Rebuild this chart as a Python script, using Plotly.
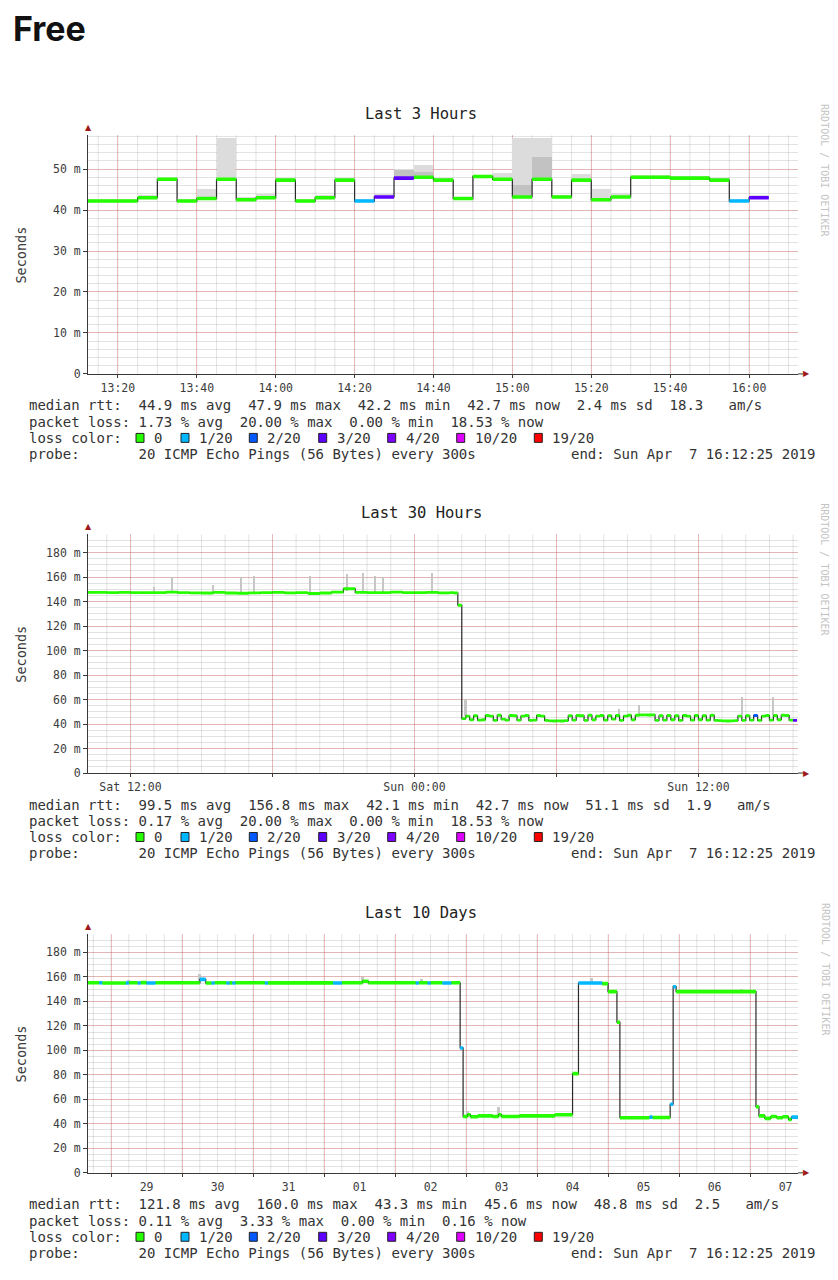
import pandas as pd
import plotly.graph_objects as go

W, H = 838, 1280

# loss colour legend (SmokePing, 20 pings)
loss_labels = ["0", "1/20", "2/20", "3/20", "4/20", "10/20", "19/20"]
loss_steps = [0, 1, 2, 3, 4, 10, 19]
loss_colors = ["#26ff00", "#00b8ff", "#0059ff", "#5e00ff", "#7e00ff", "#dd00ff", "#ff0000"]

# ---- Last 3 Hours: 5 minute steps starting 13:10 (values in ms)
h3_start = "2019-04-07 13:10"
h3_median = [42.2, 42.2, 42.2, 43.0, 47.5, 42.2, 42.8, 47.5, 42.5, 43.0,
             47.3, 42.2, 43.0, 47.3, 42.2, 43.2, 47.8, 48.0, 47.3, 42.8,
             48.2, 47.5, 43.2, 47.5, 43.2, 47.3, 42.5, 43.2, 48.0, 48.0,
             47.8, 47.8, 47.3, 42.2, 43.0]
h3_loss = [0, 0, 0, 0, 0, 0, 0, 0, 0, 0,
           0, 0, 0, 0, 1, 3, 3, 0, 0, 0,
           0, 0, 0, 0, 0, 0, 0, 0, 0, 0,
           0, 0, 0, 1, 3]
h3_smoke = [42.6, 42.6, 42.6, 43.6, 48.0, 42.7, 45.0, 57.5, 43.0, 43.8,
            47.8, 42.7, 43.5, 47.8, 42.6, 43.8, 50.0, 51.0, 47.8, 43.2,
            48.6, 49.0, 57.5, 57.5, 43.6, 48.8, 45.0, 44.0, 48.4, 48.6,
            48.2, 48.2, 47.8, 42.6, 43.5]
h3_smoke_dark = [42.2, 42.2, 42.2, 43.0, 47.5, 42.2, 42.8, 47.5, 42.5, 43.0,
                 47.3, 42.2, 43.0, 47.3, 42.2, 43.2, 49.6, 49.2, 47.3, 42.8,
                 48.2, 47.5, 46.0, 53.0, 43.2, 47.3, 42.5, 43.2, 48.0, 48.0,
                 47.8, 47.8, 47.3, 42.2, 43.0]

# ---- Last 30 Hours: half-hour values before the drop, then 10 minute values
d30_hi_start = "2019-04-06 10:00"
d30_hi_median = [147.5, 147.5, 147.3, 147.6, 147.3, 147.4, 147.3, 147.8, 147.3, 147.2,
                 147.0, 147.6, 147.0, 146.8, 147.2, 147.3, 147.6, 147.2, 147.3, 146.6,
                 147.0, 147.8, 150.5, 147.5, 147.4, 147.3, 147.8, 147.3, 147.3, 147.6,
                 147.2]
d30_lo_start = "2019-04-07 01:30"
d30_lo_median = [147.3, 147.0, 137.0,
                 44.5, 46.5, 43.5, 46.8, 43.2, 43.5,
                 47.0, 46.5, 43.0, 47.2, 44.0, 43.2,
                 47.0, 46.8, 43.2, 46.5, 47.0, 43.0,
                 43.2, 47.0, 46.5, 43.0, 42.6, 42.5,
                 42.6, 42.5, 42.8, 46.8, 43.2, 47.0,
                 46.8, 43.0, 47.2, 43.5, 46.5, 47.0,
                 43.2, 46.8, 44.0, 47.0, 43.0, 46.5,
                 47.2, 43.5, 47.2, 47.5, 47.5, 47.4,
                 47.5, 43.0, 46.8, 43.2, 47.0, 43.5,
                 46.8, 43.0, 47.0, 46.5, 43.2, 47.0,
                 43.5, 46.8, 43.2, 47.2, 43.0, 42.8,
                 42.6, 42.5, 42.6, 42.8, 46.5, 43.0,
                 46.8, 43.2, 47.0, 43.0, 46.5, 47.0,
                 43.2, 47.0, 43.5, 47.2, 47.0, 43.2,
                 43.0]
d30_loss_times = ["2019-04-07 14:20", "2019-04-07 16:00"]
d30_loss_values = [2, 3]
d30_spike_times = ["2019-04-06 13:00", "2019-04-06 13:45", "2019-04-06 15:30", "2019-04-06 16:40",
                   "2019-04-06 17:15", "2019-04-06 19:35", "2019-04-06 21:10", "2019-04-06 21:50",
                   "2019-04-06 22:20", "2019-04-06 22:40", "2019-04-07 00:45", "2019-04-07 02:10",
                   "2019-04-07 08:40", "2019-04-07 09:30", "2019-04-07 13:50", "2019-04-07 15:10"]
d30_spike_low = [147, 147, 147, 147, 147, 147, 148, 147, 147, 147, 147, 46, 47, 47, 47, 47]
d30_spike_high = [152, 160, 153, 160, 161, 161, 162, 163, 161, 160, 163, 60, 52, 55, 62, 62]

# ---- Last 10 Days: change points of the median
d10_times = ["2019-03-28 16:00", "2019-03-28 20:00", "2019-03-28 21:00", "2019-03-29 05:00",
             "2019-03-29 06:00", "2019-03-29 09:00", "2019-03-29 10:00", "2019-03-29 12:00",
             "2019-03-29 15:00", "2019-03-30 06:00", "2019-03-30 08:00", "2019-03-30 10:00",
             "2019-03-30 11:00", "2019-03-30 15:00", "2019-03-30 16:00", "2019-03-30 17:00",
             "2019-03-30 18:00", "2019-03-31 04:00", "2019-03-31 05:00", "2019-04-01 03:00",
             "2019-04-01 06:00", "2019-04-01 13:00", "2019-04-01 15:00", "2019-04-02 07:00",
             "2019-04-02 08:00", "2019-04-02 11:00", "2019-04-02 12:00", "2019-04-02 16:00",
             "2019-04-02 19:00", "2019-04-02 22:00", "2019-04-02 23:00", "2019-04-03 00:30",
             "2019-04-03 01:30", "2019-04-03 04:00", "2019-04-03 09:00", "2019-04-03 11:00",
             "2019-04-03 12:00", "2019-04-03 18:00", "2019-04-04 06:00", "2019-04-04 12:00",
             "2019-04-04 14:00", "2019-04-04 22:00", "2019-04-05 00:00", "2019-04-05 03:00",
             "2019-04-05 04:00", "2019-04-05 14:00", "2019-04-05 15:00", "2019-04-05 21:00",
             "2019-04-05 22:00", "2019-04-05 23:00", "2019-04-07 02:00", "2019-04-07 03:00",
             "2019-04-07 05:00", "2019-04-07 07:00", "2019-04-07 09:00", "2019-04-07 11:00",
             "2019-04-07 13:00", "2019-04-07 14:00"]
d10_median = [155.2, 155.2, 155.0, 155.0, 155.2, 155.0, 155.3, 155.0, 155.2, 158.0,
              155.0, 155.0, 155.2, 155.0, 155.1, 155.0, 155.2, 155.0, 155.1, 155.0,
              155.2, 156.5, 155.2, 155.0, 155.2, 155.0, 155.2, 155.0, 155.2, 102.0,
              46.0, 47.5, 45.8, 46.5, 46.0, 47.5, 46.0, 46.5, 47.5, 81.0,
              155.0, 154.5, 148.0, 123.0, 45.0, 45.5, 45.2, 56.0, 152.0, 148.0,
              54.0, 46.5, 44.5, 46.0, 45.0, 45.8, 43.5, 45.5]
d10_loss = [0, 1, 0, 1, 0, 1, 0, 1, 0, 1,
            0, 1, 0, 1, 0, 1, 0, 1, 0, 1,
            0, 0, 0, 1, 0, 1, 0, 1, 0, 1,
            0, 0, 0, 0, 0, 0, 0, 0, 0, 0,
            1, 0, 0, 0, 0, 1, 0, 1, 1, 0,
            0, 0, 0, 0, 0, 0, 0, 1]
d10_end = "2019-04-07 16:10"
d10_spike_times = ["2019-03-29 06:00", "2019-03-30 06:00", "2019-04-01 13:00", "2019-04-02 09:00",
                   "2019-04-03 00:30", "2019-04-03 11:00", "2019-04-04 18:30", "2019-04-06 21:00"]
d10_spike_low = [155, 155, 155, 155, 46, 46, 155, 148]
d10_spike_high = [157, 162, 160, 158, 50, 54, 159, 150]

# legend text blocks
titles = ["Last 3 Hours", "Last 30 Hours", "Last 10 Days"]
rtt_lines = [
    "median rtt:  44.9 ms avg  47.9 ms max  42.2 ms min  42.7 ms now  2.4 ms sd  18.3   am/s",
    "median rtt:  99.5 ms avg  156.8 ms max  42.1 ms min  42.7 ms now  51.1 ms sd  1.9   am/s",
    "median rtt:  121.8 ms avg  160.0 ms max  43.3 ms min  45.6 ms now  48.8 ms sd  2.5   am/s",
]
loss_lines = [
    "packet loss: 1.73 % avg  20.00 % max  0.00 % min  18.53 % now",
    "packet loss: 0.17 % avg  20.00 % max  0.00 % min  18.53 % now",
    "packet loss: 0.11 % avg  3.33 % max  0.00 % min  0.16 % now",
]
probe_line = "probe:       20 ICMP Echo Pings (56 Bytes) every 300s"
end_line = "end: Sun Apr  7 16:12:25 2019"

x_ranges = [["2019-04-07 13:12:25", "2019-04-07 16:12:25"],
            ["2019-04-06 10:12:25", "2019-04-07 16:12:25"],
            ["2019-03-28 16:12:25", "2019-04-07 16:12:25"]]
y_tops = [58.25, 194.9, 194.9]
# vertical minor grid spacing per panel
minor_start = ["2019-04-07 13:15", "2019-04-06 11:00", "2019-03-28 18:00"]
minor_freq = ["5min", "1h", "6h"]

MONO = "DejaVu Sans Mono"
MAJOR = "rgba(230,80,80,0.30)"
MINOR = "rgba(0,0,0,0.11)"
AXIS = "#3a3a3a"

PLOT_L, PLOT_R = 88, 798
OFFSETS = [0, 401.3, 803.3]


def fx(x):
    return x / W


def fy(y):
    return 1 - y / H


def bucket_color(loss):
    col = loss_colors[0]
    for step, c in zip(loss_steps, loss_colors):
        if loss >= step:
            col = c
    return col


def median_traces(starts, ends, vals, losses, xa, ya, lw):
    out = [go.Scatter(x=list(starts) + [ends[-1]], y=list(vals) + [vals[-1]],
                      mode="lines", line=dict(color="#2a2a2a", width=1.2, shape="hv"),
                      xaxis=xa, yaxis=ya, hoverinfo="skip", showlegend=False)]
    for c in loss_colors:
        sx, sy = [], []
        for s, e, v, l in zip(starts, ends, vals, losses):
            if bucket_color(l) == c:
                sx += [s, e, None]
                sy += [v, v, None]
        if sx:
            out.append(go.Scatter(x=sx, y=sy, mode="lines", line=dict(color=c, width=lw),
                                  xaxis=xa, yaxis=ya, hoverinfo="skip", showlegend=False))
    return out


def smoke_bars(centers, low, high, width_ms, color, xa, ya):
    return go.Bar(x=centers, y=[h - l for h, l in zip(high, low)], base=low,
                  width=[width_ms] * len(centers), marker=dict(color=color, line=dict(width=0)),
                  xaxis=xa, yaxis=ya, hoverinfo="skip", showlegend=False)


traces = []

# panel 1
t1 = pd.date_range(h3_start, periods=len(h3_median), freq="5min")
e1 = t1 + pd.Timedelta(minutes=5)
c1 = t1 + pd.Timedelta(seconds=150)
traces.append(smoke_bars(c1, h3_median, h3_smoke, 300000, "#dcdcdc", "x", "y"))
traces.append(smoke_bars(c1, h3_median, h3_smoke_dark, 300000, "#c2c2c2", "x", "y"))
traces += median_traces(t1, e1, h3_median, h3_loss, "x", "y", 3.6)

# panel 2
t2 = list(pd.date_range(d30_hi_start, periods=len(d30_hi_median), freq="30min")) + \
     list(pd.date_range(d30_lo_start, periods=len(d30_lo_median), freq="10min"))
v2 = d30_hi_median + d30_lo_median
e2 = t2[1:] + [t2[-1] + pd.Timedelta(minutes=10)]
l2 = [0] * len(t2)
for lt, lv in zip(d30_loss_times, d30_loss_values):
    l2[t2.index(pd.Timestamp(lt))] = lv
traces.append(smoke_bars(pd.to_datetime(d30_spike_times), d30_spike_low, d30_spike_high,
                         240000, "#c6c6c6", "x2", "y2"))
traces += median_traces(t2, e2, v2, l2, "x2", "y2", 2.8)

# panel 3
t3 = list(pd.to_datetime(d10_times))
e3 = t3[1:] + [pd.Timestamp(d10_end)]
traces.append(smoke_bars(pd.to_datetime(d10_spike_times), d10_spike_low, d10_spike_high,
                         4000000, "#c6c6c6", "x3", "y3"))
traces += median_traces(t3, e3, d10_median, d10_loss, "x3", "y3", 3.6)

fig = go.Figure(traces)

tickfont = dict(family=MONO, size=11.5, color="#3c3c3c")
x_specs = [
    dict(dtick=1200000, tick0="2019-04-07 13:00", tickformat="%H:%M"),
    dict(tickmode="array",
         tickvals=["2019-04-06 12:00", "2019-04-06 18:00", "2019-04-07 00:00",
                   "2019-04-07 06:00", "2019-04-07 12:00"],
         ticktext=["Sat 12:00", "", "Sun 00:00", "", "Sun 12:00"]),
    dict(dtick=86400000, tick0="2019-03-29", tickformat="%d", ticklabelmode="period"),
]
y_specs = [
    dict(tickvals=[0, 10, 20, 30, 40, 50], ticktext=["0", "10 m", "20 m", "30 m", "40 m", "50 m"],
         minor=dict(tickmode="linear", tick0=0, dtick=2, showgrid=True, gridcolor=MINOR)),
    dict(tickvals=list(range(0, 181, 20)),
         ticktext=["0"] + ["%d m" % v for v in range(20, 181, 20)],
         minor=dict(tickmode="linear", tick0=0, dtick=5, showgrid=True, gridcolor=MINOR)),
    dict(tickvals=list(range(0, 181, 20)),
         ticktext=["0"] + ["%d m" % v for v in range(20, 181, 20)],
         minor=dict(tickmode="linear", tick0=0, dtick=5, showgrid=True, gridcolor=MINOR)),
]

annotations = []
shapes = []

for k in range(3):
    off = OFFSETS[k]
    top, bottom = 136 + off, 376 + off
    xname = "xaxis" if k == 0 else "xaxis%d" % (k + 1)
    yname = "yaxis" if k == 0 else "yaxis%d" % (k + 1)
    xref = "x" if k == 0 else "x%d" % (k + 1)
    yref = "y" if k == 0 else "y%d" % (k + 1)
    xs = dict(type="date", domain=[fx(PLOT_L), fx(PLOT_R)], range=x_ranges[k], anchor=yref,
              showline=True, linecolor=AXIS, linewidth=1, ticks="outside", ticklen=3,
              tickcolor=AXIS, tickfont=tickfont, showgrid=True, gridcolor=MAJOR, gridwidth=1,
              zeroline=False, fixedrange=True)
    xs.update(x_specs[k])
    ys = dict(domain=[fy(bottom), fy(top)], range=[0, y_tops[k]], anchor=xref, tickmode="array",
              showline=True, linecolor=AXIS, linewidth=1, ticks="outside", ticklen=4,
              tickcolor=AXIS, tickfont=tickfont, showgrid=True, gridcolor=MAJOR, gridwidth=1,
              zeroline=False, fixedrange=True)
    ys.update(y_specs[k])
    fig.layout[xname] = xs
    fig.layout[yname] = ys

    # vertical minor grid lines
    for t in pd.date_range(minor_start[k], x_ranges[k][1], freq=minor_freq[k]):
        shapes.append(dict(type="line", xref=xref, yref=yref + " domain", x0=t, x1=t,
                           y0=0, y1=1, layer="below", line=dict(color=MINOR, width=1)))

    # title, y title, watermark
    annotations.append(dict(text=titles[k], x=fx(421), y=fy(115 + off), xref="paper", yref="paper",
                            showarrow=False, xanchor="center", yanchor="middle",
                            font=dict(family=MONO, size=15.5, color="#222")))
    annotations.append(dict(text="Seconds", x=fx(21), y=fy(257 + off), xref="paper", yref="paper",
                            showarrow=False, textangle=-90, xanchor="center", yanchor="middle",
                            font=dict(family=MONO, size=13.5, color="#3c3c3c")))
    annotations.append(dict(text="RRDTOOL / TOBI OETIKER", x=fx(825), y=fy(171 + off),
                            xref="paper", yref="paper", showarrow=False, textangle=90,
                            xanchor="center", yanchor="middle",
                            font=dict(family=MONO, size=10, color="#c4c4c4")))
    # axis arrows
    shapes.append(dict(type="line", xref="paper", yref="paper", x0=fx(PLOT_R), x1=fx(803),
                       y0=fy(bottom), y1=fy(bottom), line=dict(color=AXIS, width=1)))
    annotations.append(dict(text="▲", x=fx(PLOT_L), y=fy(top - 1), xref="paper", yref="paper",
                            showarrow=False, xanchor="center", yanchor="bottom",
                            font=dict(family="DejaVu Sans", size=8, color="#a01818")))
    annotations.append(dict(text="▶", x=fx(801), y=fy(bottom), xref="paper", yref="paper",
                            showarrow=False, xanchor="left", yanchor="middle",
                            font=dict(family="DejaVu Sans", size=8, color="#a01818")))

    # legend block
    txt = dict(xref="paper", yref="paper", showarrow=False, xanchor="left", yanchor="middle",
               font=dict(family=MONO, size=14, color="#333"))
    for line, yy in [(rtt_lines[k], 407.7), (loss_lines[k], 424.0), ("loss color:", 440.3),
                     (probe_line, 456.7)]:
        annotations.append(dict(txt, text=line.replace(" ", "\u00a0"), x=fx(27), y=fy(yy + off)))
    annotations.append(dict(txt, text=end_line.replace(" ", "\u00a0"), x=fx(817),
                            y=fy(456.7 + off), xanchor="right"))
    for cx, lab, col in zip([140, 185, 253.3, 322.7, 391.7, 460.7, 538.3], loss_labels, loss_colors):
        shapes.append(dict(type="rect", xref="paper", yref="paper",
                           x0=fx(cx - 4), x1=fx(cx + 4), y0=fy(440.3 + off + 4.5),
                           y1=fy(440.3 + off - 4.5), fillcolor=col,
                           line=dict(color="#222", width=1)))
        annotations.append(dict(txt, text=lab, x=fx(cx + 12), y=fy(440.3 + off)))

annotations.append(dict(text="<b>Free</b>", x=fx(11), y=fy(29), xref="paper", yref="paper",
                        showarrow=False, xanchor="left", yanchor="middle",
                        font=dict(family="Inter", size=34, color="#111")))

fig.update_layout(width=W, height=H, margin=dict(l=0, r=0, t=0, b=0),
                  paper_bgcolor="white", plot_bgcolor="white", barmode="overlay",
                  bargap=0, showlegend=False, annotations=annotations, shapes=shapes)

fig.write_html("out.html", config={"displayModeBar": False},
               post_script="document.body.style.margin='0';")
